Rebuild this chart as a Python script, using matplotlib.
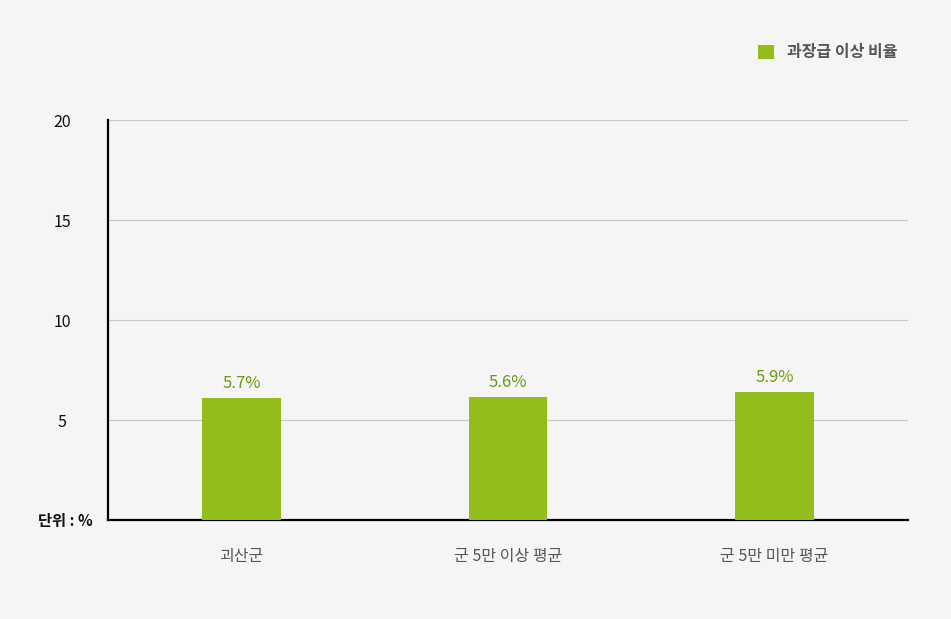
import matplotlib.pyplot as plt

plt.rcParams['font.family'] = ['Noto Sans CJK KR', 'DejaVu Sans']

categories = ['괴산군', '군 5만 이상 평균', '군 5만 미만 평균']
bar_values = [6.1, 6.15, 6.4]
value_labels = ['5.7%', '5.6%', '5.9%']
series_name = '과장급 이상 비율'
y_ticks = [5, 10, 15, 20]

bar_color = '#92bd1a'
label_color = '#6b9a12'
bg = '#f5f5f5'

fig = plt.figure(figsize=(9.51, 6.19), dpi=100, facecolor=bg)
ax = fig.add_axes([0.1136, 0.1599, 0.8412, 0.6462], facecolor=bg)

x = range(len(categories))
bars = ax.bar(x, bar_values, width=0.295, color=bar_color, zorder=3, label=series_name)

for rect, txt in zip(bars, value_labels):
    ax.annotate(txt, (rect.get_x() + rect.get_width() / 2, rect.get_height()),
                xytext=(0, 4), textcoords='offset points', ha='center', va='bottom',
                fontsize=12, color=label_color, zorder=4)

ax.set_xlim(-0.5, 2.5)
ax.set_ylim(0, 20)
ax.set_yticks(y_ticks)
ax.set_yticklabels([str(t) for t in y_ticks], fontsize=11.5, color='#111111')
ax.set_xticks(list(x))
ax.set_xticklabels(categories, fontsize=11.5, color='#555555')
ax.tick_params(axis='y', length=0, pad=33)
ax.tick_params(axis='x', length=0, pad=20)
for lab in ax.get_yticklabels():
    lab.set_horizontalalignment('center')

ax.grid(axis='y', color='#c8c8c8', linewidth=0.8, zorder=0)
for side in ['top', 'right']:
    ax.spines[side].set_visible(False)
ax.spines['left'].set_color('black')
ax.spines['bottom'].set_color('black')
ax.spines['left'].set_linewidth(1.6)
ax.spines['bottom'].set_linewidth(1.6)

fig.text(65 / 951, 1 - 521 / 619, '단위 : %', ha='center', va='center',
         fontsize=11, color='#111111', fontweight='bold')

ax.legend(loc='upper right', bbox_to_anchor=(912 / 951, 1 - 30 / 619),
          bbox_transform=fig.transFigure, frameon=False,
          prop={'size': 11.5, 'weight': 'bold'},
          handlelength=1.05, handleheight=1.05, handletextpad=0.8,
          labelcolor='#555555')

fig.savefig('out.png', dpi=100, facecolor=bg)
